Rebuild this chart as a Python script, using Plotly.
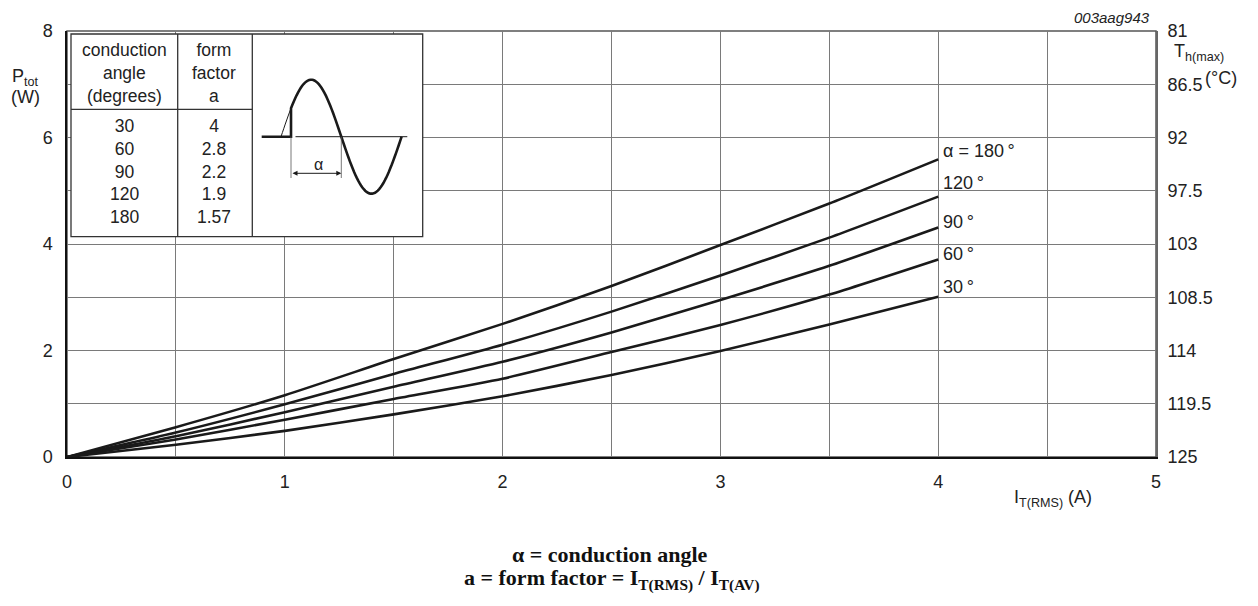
import numpy as np
import plotly.graph_objects as go

# ---------------- data ----------------
current = [0, 0.5, 1, 1.5, 2, 2.5, 3, 3.5, 4]
p_180 = [0, 0.56, 1.16, 1.84, 2.50, 3.21, 3.98, 4.76, 5.59]
p_120 = [0, 0.46, 0.99, 1.56, 2.11, 2.73, 3.41, 4.12, 4.89]
p_90 = [0, 0.39, 0.84, 1.32, 1.79, 2.34, 2.95, 3.59, 4.31]
p_60 = [0, 0.33, 0.70, 1.09, 1.47, 1.97, 2.48, 3.05, 3.71]
p_30 = [0, 0.23, 0.49, 0.80, 1.14, 1.54, 1.99, 2.49, 3.01]
curve_labels = ["α = 180\u2009°", "120\u2009°", "90\u2009°", "60\u2009°", "30\u2009°"]

x_tick_vals = [0, 1, 2, 3, 4, 5]
x_tick_text = ["0", "1", "2", "3", "4", "5"]
y_tick_vals = [0, 2, 4, 6, 8]
y_tick_text = ["0", "2", "4", "6", "8"]
right_tick_vals = [125, 119.5, 114, 108.5, 103, 97.5, 92, 86.5, 81]
right_tick_text = ["125", "119.5", "114", "108.5", "103", "97.5", "92", "86.5", "81"]

table_angles = ["30", "60", "90", "120", "180"]
table_form_factors = ["4", "2.8", "2.2", "1.9", "1.57"]

# ---------------- geometry helpers (page pixels -> coords) ----------------
OFF = 8                      # page body margin
W, H = 1250, 590
PL, PR, PT, PB = 67, 1156, 31, 457   # plot area in page pixels
L, R, T, B = PL - OFF, PR - OFF, PT - OFF, PB - OFF
XMAX, YMAX = 5, 8


def dx(px):
    return (px - PL) / (PR - PL) * XMAX


def dy(py):
    return (PB - py) / (PB - PT) * YMAX


def pxp(px):
    return (px - PL) / (PR - PL)


def pyp(py):
    return (PB - py) / (PB - PT)


FONT = "Liberation Sans, Arial, sans-serif"
INK = "#1a1a1a"
TXT = "#222222"

fig = go.Figure()

series = [p_180, p_120, p_90, p_60, p_30]
for vals in series:
    fig.add_trace(go.Scatter(x=current, y=vals, mode="lines",
                             line=dict(color=INK, width=2.6, shape="spline", smoothing=0.6),
                             showlegend=False, hoverinfo="skip"))

# dummy trace to activate right axis
fig.add_trace(go.Scatter(x=[0], y=[right_tick_vals[0]], yaxis="y2", mode="markers",
                         marker=dict(opacity=0), showlegend=False, hoverinfo="skip"))

shapes = []
shapes.append(dict(type="rect", xref="paper", yref="paper", x0=0, x1=1, y0=0, y1=1,
                   line=dict(color="#555555", width=1.5), layer="below"))

# ---- inset table ----
tl, tc1, tc2, tr = 71, 177.7, 252.3, 422.7
tt, tb, th = 34, 236.7, 109.3
shapes.append(dict(type="rect", xref="x", yref="y", x0=dx(tl), x1=dx(tr), y0=dy(tb), y1=dy(tt),
                   fillcolor="white", line=dict(color="#333333", width=1.3), layer="above"))
for cx in (tc1, tc2):
    shapes.append(dict(type="line", xref="x", yref="y", x0=dx(cx), x1=dx(cx), y0=dy(tb), y1=dy(tt),
                       line=dict(color="#333333", width=1.3), layer="above"))
shapes.append(dict(type="line", xref="x", yref="y", x0=dx(tl), x1=dx(tc2), y0=dy(th), y1=dy(th),
                   line=dict(color="#333333", width=1.3), layer="above"))

# ---- sine-wave illustration ----
base = 136.7
z0, half, amp = 281.0, 60.3, 57.0
jump = 291.0


def sine_y(px):
    return base - amp * np.sin(np.pi * (px - z0) / half)


def path_from(pxs, pys):
    pts = ["%s %.4f,%.4f" % ("M" if i == 0 else "L", dx(a), dy(b)) for i, (a, b) in enumerate(zip(pxs, pys))]
    return " ".join(pts)


thin_x = np.linspace(z0, jump, 8)
shapes.append(dict(type="path", xref="x", yref="y", path=path_from(thin_x, sine_y(thin_x)),
                   line=dict(color=INK, width=1), layer="above"))
thick_x = np.linspace(jump, z0 + 2 * half, 80)
thick_path_x = [261.7, jump] + list(thick_x)
thick_path_y = [base, base] + list(sine_y(thick_x))
shapes.append(dict(type="path", xref="x", yref="y", path=path_from(thick_path_x, thick_path_y),
                   line=dict(color=INK, width=2.6), layer="above"))
shapes.append(dict(type="line", xref="x", yref="y", x0=dx(295.5), x1=dx(407.3), y0=dy(base), y1=dy(base),
                   line=dict(color=INK, width=1), layer="above"))
for ex in (jump, z0 + half):
    shapes.append(dict(type="line", xref="x", yref="y", x0=dx(ex), x1=dx(ex), y0=dy(base), y1=dy(178),
                       line=dict(color="#555555", width=0.8), layer="above"))

annotations = []
annotations.append(dict(x=dx(z0 + half), y=dy(173.3), ax=dx(jump), ay=dy(173.3), xref="x", yref="y",
                        axref="x", ayref="y", text="", showarrow=True, arrowhead=2, arrowside="end+start",
                        arrowsize=1, arrowwidth=1, arrowcolor=INK, standoff=0, startstandoff=0))
annotations.append(dict(x=dx(318), y=dy(164), xref="x", yref="y", text="α", showarrow=False,
                        font=dict(family=FONT, size=16, color=TXT)))

# table text
TFS = 17.5
col1 = (tl + tc1) / 2
col2 = (tc1 + tc2) / 2 - 1
annotations.append(dict(x=dx(col1), y=dy(72.5), xref="x", yref="y", showarrow=False,
                        text="conduction<br>angle<br>(degrees)", font=dict(family=FONT, size=TFS, color=TXT)))
annotations.append(dict(x=dx(col2), y=dy(72.5), xref="x", yref="y", showarrow=False,
                        text="form<br>factor<br>a", font=dict(family=FONT, size=TFS, color=TXT)))
annotations.append(dict(x=dx(col1), y=dy(171.5), xref="x", yref="y", showarrow=False,
                        text="<br>".join(table_angles), font=dict(family=FONT, size=TFS, color=TXT)))
annotations.append(dict(x=dx(col2), y=dy(171.5), xref="x", yref="y", showarrow=False,
                        text="<br>".join(table_form_factors), font=dict(family=FONT, size=TFS, color=TXT)))

# curve labels
label_shift = [8, 14, 5, 5, 10]
for vals, lab, sh in zip(series, curve_labels, label_shift):
    annotations.append(dict(x=current[-1], y=vals[-1], xref="x", yref="y", text=lab, showarrow=False,
                            xanchor="left", yanchor="middle", xshift=3, yshift=sh,
                            font=dict(family=FONT, size=18, color=TXT)))

AFS = 18
annotations.append(dict(x=pxp(26), y=pyp(77), xref="paper", yref="paper", showarrow=False,
                        text="P<sub>tot</sub>", xanchor="center", yanchor="middle",
                        font=dict(family=FONT, size=AFS, color=TXT)))
annotations.append(dict(x=pxp(26), y=pyp(97), xref="paper", yref="paper", showarrow=False,
                        text="(W)", xanchor="center", yanchor="middle",
                        font=dict(family=FONT, size=AFS, color=TXT)))
annotations.append(dict(x=pxp(1172), y=pyp(53), xref="paper", yref="paper", showarrow=False,
                        text="T<sub>h(max)</sub>", xanchor="left", yanchor="middle",
                        font=dict(family=FONT, size=AFS, color=TXT)))
annotations.append(dict(x=pxp(1239), y=pyp(78), xref="paper", yref="paper", showarrow=False,
                        text="(°C)", xanchor="right", yanchor="middle",
                        font=dict(family=FONT, size=AFS, color=TXT)))
annotations.append(dict(x=pxp(1094), y=pyp(498), xref="paper", yref="paper", showarrow=False,
                        text="I<sub>T(RMS)</sub> (A)", xanchor="right", yanchor="middle",
                        font=dict(family=FONT, size=AFS, color=TXT)))
annotations.append(dict(x=pxp(1152), y=pyp(17.5), xref="paper", yref="paper", showarrow=False,
                        text="<i>003aag943</i>", xanchor="right", yanchor="middle",
                        font=dict(family=FONT, size=15, color=TXT)))

SERIF = "Liberation Serif, Times New Roman, serif"
annotations.append(dict(x=pxp(610), y=pyp(554), xref="paper", yref="paper", showarrow=False,
                        text="<b>α = conduction angle</b>", xanchor="center", yanchor="middle",
                        font=dict(family=SERIF, size=22, color="#111111")))
annotations.append(dict(x=pxp(612), y=pyp(579), xref="paper", yref="paper", showarrow=False,
                        text="<b>a = form factor = I<sub>T(RMS)</sub> / I<sub>T(AV)</sub></b>",
                        xanchor="center", yanchor="middle",
                        font=dict(family=SERIF, size=22, color="#111111")))

TICKF = dict(family=FONT, size=18, color=TXT)
GRID = "#7a7a7a"
fig.update_layout(
    width=W, height=H,
    margin=dict(l=L, r=W - R, t=T, b=H - B, autoexpand=False),
    paper_bgcolor="white", plot_bgcolor="white",
    font=dict(family=FONT, size=18, color=TXT),
    showlegend=False,
    shapes=shapes,
    annotations=annotations,
    xaxis=dict(range=[0, XMAX], tickvals=x_tick_vals, ticktext=x_tick_text, showgrid=True,
               gridcolor=GRID, gridwidth=1, zeroline=False, showline=True, linecolor="#111111",
               linewidth=1.5, ticks="", ticklabelstandoff=8, tickfont=TICKF,
               minor=dict(dtick=0.5, tick0=0, showgrid=True, gridcolor=GRID, gridwidth=1, ticks=""),
               fixedrange=True),
    yaxis=dict(range=[0, YMAX], tickvals=y_tick_vals, ticktext=y_tick_text, showgrid=True,
               gridcolor=GRID, gridwidth=1, zeroline=False, showline=True, linecolor="#111111",
               linewidth=1.5, ticks="", ticklabelstandoff=9, tickfont=TICKF,
               minor=dict(dtick=1, tick0=0, showgrid=True, gridcolor=GRID, gridwidth=1, ticks=""),
               fixedrange=True),
    yaxis2=dict(range=[right_tick_vals[0], right_tick_vals[-1]], overlaying="y", side="right",
                tickvals=right_tick_vals, ticktext=right_tick_text, showgrid=False, zeroline=False,
                showline=True, linecolor="#666666", linewidth=2, ticks="", ticklabelstandoff=6,
                tickfont=TICKF, fixedrange=True),
)

fig.write_html("out.html")
